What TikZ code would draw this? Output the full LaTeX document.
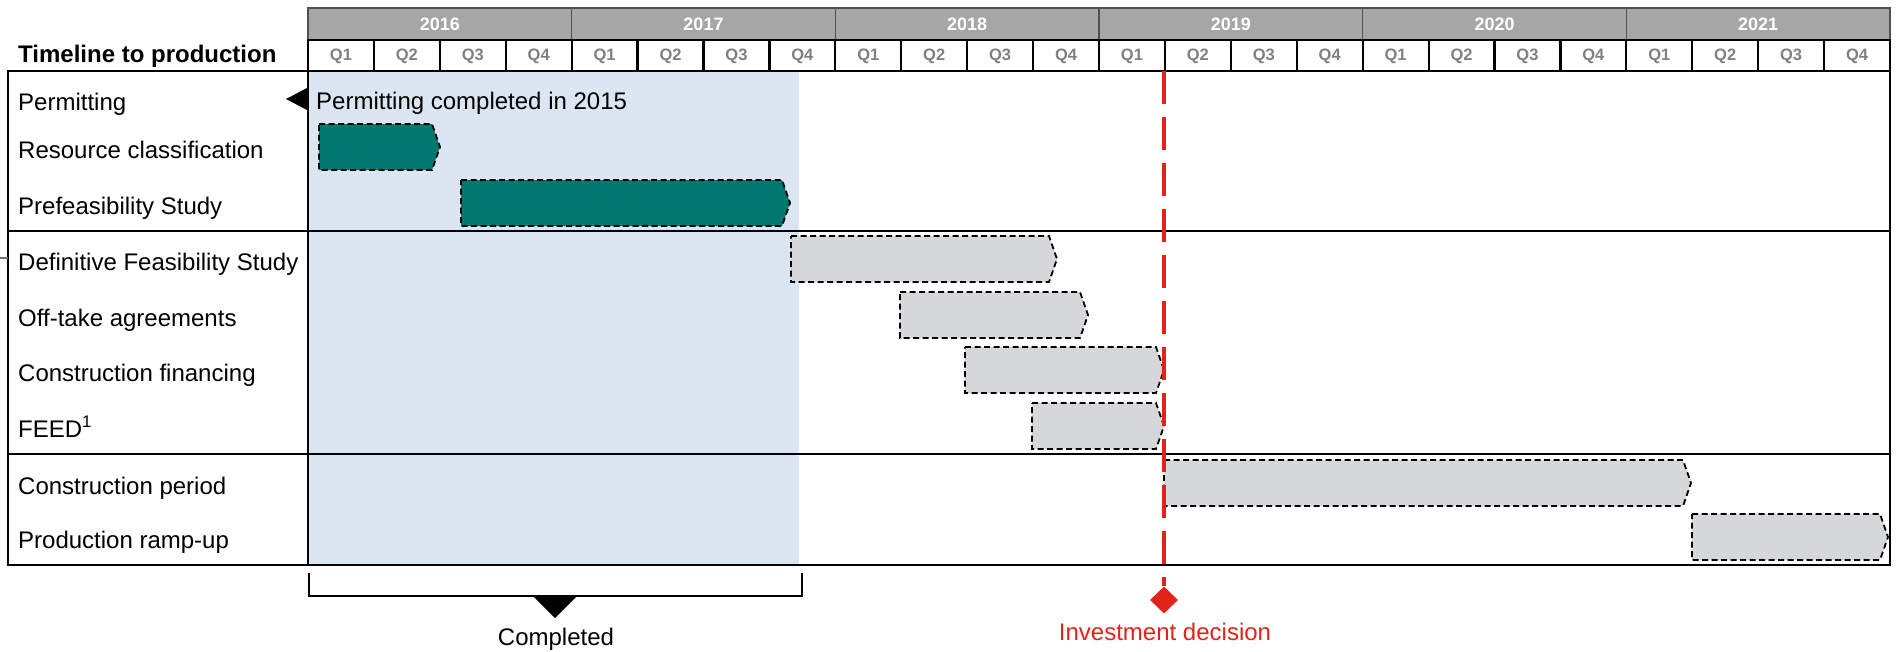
\documentclass[tikz,border=0pt]{standalone}
\usepackage{fontspec}
\setmainfont{Liberation Sans}
\usetikzlibrary{shapes.geometric}
\definecolor{tealbar}{RGB}{0,120,111}
\definecolor{graybar}{RGB}{214,215,217}
\definecolor{shadeblue}{RGB}{220,230,242}
\definecolor{yeargray}{RGB}{166,166,166}
\definecolor{yearline}{RGB}{80,80,80}
\definecolor{qtext}{RGB}{128,128,128}
\definecolor{decred}{RGB}{226,35,26}
\definecolor{stubcol}{RGB}{120,115,100}
\newcommand\gbar[5]{%
  \draw[barline, fill=#5] (#1,#3) -- ({#2-8},#3) -- (#2,{(#3+#4)/2}) -- ({#2-8},#4) -- (#1,#4) -- cycle;}
\begin{document}
\begin{tikzpicture}[x=1pt,y=-1pt,
  lbl/.style={anchor=base west, inner sep=0, font=\fontsize{24}{28}\selectfont},
  yearcell/.style={draw=yearline, fill=yeargray, line width=1.5pt},
  qcell/.style={draw=black, fill=white, line width=2.2pt},
  yeartxt/.style={text=white, font=\bfseries\fontsize{18}{20}\selectfont, inner sep=0},
  qtxt/.style={text=qtext, font=\bfseries\fontsize{16.5}{18}\selectfont, inner sep=0},
  barline/.style={draw=black, line width=1.8pt, dash pattern=on 6pt off 3.5pt},
  sepline/.style={draw=black, line width=1.3pt},
  boxline/.style={draw=black, line width=2pt},
  decline/.style={draw=decred, line width=4pt, dash pattern=on 33pt off 13pt}
]
\useasboundingbox (0,0) rectangle (1897,651);
% shaded completed period
\fill[shadeblue] (308,71) rectangle (799,565);
% bars
\gbar{319}{440}{124}{170}{tealbar}
\gbar{461}{790}{180}{226}{tealbar}
\gbar{791}{1057}{236}{282}{graybar}
\gbar{900}{1088}{292}{338}{graybar}
\gbar{965}{1164}{347}{393}{graybar}
\gbar{1032}{1164}{403}{449}{graybar}
\gbar{1164}{1691}{460}{506}{graybar}
\gbar{1692}{1888}{514}{560}{graybar}
% row separators
\draw[sepline] (8,231) -- (1890,231);
\draw[sepline] (8,454) -- (1890,454);
% main box
\draw[boxline] (8,71) rectangle (1890,565);
\draw[boxline] (308,71) -- (308,565);
% header
\foreach \yr [count=\i from 0] in {2016,2017,2018,2019,2020,2021} {
  \draw[yearcell] ({308+263.667*\i},8) rectangle ({308+263.667*(\i+1)},40);
  \node[yeartxt] (yr\i) at ({308+263.667*(\i+0.5)},24.7) {\yr};
}
\foreach \i in {0,...,23} {
  \draw[qcell] ({308+65.917*\i},40) rectangle ({308+65.917*(\i+1)},71);
}
\foreach \i in {0,...,5} {
  \foreach \qq in {1,2,3,4} {
    \node[qtxt] (q\i\qq) at ({308+65.917*(4*\i+\qq-0.5)},56.7) {Q\qq};
  }
}
\node[lbl, font=\bfseries\fontsize{24}{28}\selectfont] (title) at (18,62.5) {Timeline to production};
% row labels
\node[lbl] (l1) at (18,110) {Permitting};
\node[lbl] (l2) at (18,158) {Resource classification};
\node[lbl] (l3) at (18,214) {Prefeasibility Study};
\node[lbl] (l4) at (18,270) {Definitive Feasibility Study};
\node[lbl] (l5) at (18,326) {Off-take agreements};
\node[lbl] (l6) at (18,381) {Construction financing};
\node[lbl] (l7) at (18,437) {FEED\textsuperscript{1}};
\node[lbl] (l8) at (18,494) {Construction period};
\node[lbl] (l9) at (18,548) {Production ramp-up};
% permitting note
\fill[black] (286,99) -- (307,88) -- (307,110) -- cycle;
\node[lbl] (pnote) at (316,109.5) {Permitting completed in 2015};
% left stub
\coordinate (s1) at (0,258);
\coordinate (s2) at (8,258);
\draw[stubcol, line width=1.5pt] (s1) -- (s2);
% investment decision
\node[diamond, fill=decred, inner sep=0, minimum width=28pt, minimum height=27pt] (dec) at (1164,600) {};
\coordinate (dtop) at (1164,71);
\draw[decline] (dtop) -- (dec.north);
\node[anchor=base, inner sep=0, text=decred, font=\fontsize{24}{28}\selectfont] (dectxt) at (1165,640) {Investment decision};
% completed bracket
\coordinate (b1) at (309,573);
\coordinate (b2) at (309,596);
\coordinate (b3) at (802,596);
\coordinate (b4) at (802,573);
\draw[black, line width=2pt] (b1) -- (b2) -- (b3) -- (b4);
\fill[black] (533,596) -- (577,596) -- (555,618) -- cycle;
\node[anchor=base, inner sep=0, font=\fontsize{24}{28}\selectfont] (comp) at (556,645) {Completed};
\end{tikzpicture}
\end{document}
